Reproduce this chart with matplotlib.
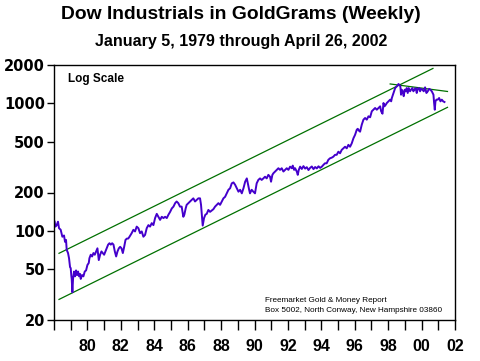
import numpy as np
import matplotlib
matplotlib.use('Agg')
import matplotlib.pyplot as plt

# weekly Dow / gold ratio (year fraction, goldgrams)
yrs_a = [1979.04, 1979.08, 1979.16, 1979.24, 1979.30, 1979.40, 1979.50, 1979.60, 1979.66, 1979.72,
         1979.76, 1979.84, 1979.90, 1979.96, 1980.00, 1980.04, 1980.06, 1980.10, 1980.14, 1980.20,
         1980.26, 1980.32, 1980.38, 1980.44, 1980.50, 1980.56, 1980.60, 1980.68, 1980.76, 1980.84,
         1980.92, 1981.00, 1981.08, 1981.12, 1981.20, 1981.28, 1981.36, 1981.44, 1981.52, 1981.60,
         1981.68, 1981.76, 1981.84, 1981.92, 1982.00, 1982.08, 1982.16, 1982.24, 1982.32, 1982.40,
         1982.48, 1982.56, 1982.64, 1982.72, 1982.80, 1982.88, 1982.96, 1983.04, 1983.12, 1983.20,
         1983.28, 1983.36, 1983.44, 1983.52]
val_a = [118, 108, 111, 118, 105, 102, 90, 92, 82, 85,
         71, 67, 61, 52, 51, 44, 42, 33, 42, 48,
         44, 49, 45, 48, 44, 46, 42, 45, 44, 48,
         49, 54, 56, 61, 65, 63, 67, 65, 69, 73,
         59, 65, 69, 67, 65, 69, 73, 78, 80, 78,
         80, 78, 69, 63, 69, 73, 75, 73, 67, 75,
         85, 87, 87, 90]

yrs_b = [1983.65, 1983.75, 1983.85, 1983.95, 1984.05, 1984.15, 1984.25, 1984.35, 1984.45, 1984.55,
         1984.65, 1984.75, 1984.85, 1984.95, 1985.05, 1985.15, 1985.25, 1985.35, 1985.45, 1985.55,
         1985.65, 1985.75, 1985.85, 1985.95, 1986.05, 1986.15, 1986.25, 1986.34, 1986.44, 1986.54,
         1986.64, 1986.74, 1986.80, 1986.88, 1986.94, 1987.04, 1987.14, 1987.24, 1987.34, 1987.44,
         1987.54, 1987.64, 1987.74, 1987.80, 1987.86, 1987.90, 1987.98, 1988.06, 1988.14, 1988.24,
         1988.34]
val_b = [96, 102, 99, 108, 105, 96, 99, 90, 93, 105,
         111, 108, 115, 111, 126, 136, 129, 122, 129, 126,
         129, 126, 134, 141, 150, 155, 165, 170, 165, 155,
         155, 129, 134, 150, 160, 165, 170, 175, 180, 170,
         175, 180, 180, 160, 129, 110, 126, 134, 136, 146,
         141]

yrs_c = [1988.54, 1988.64, 1988.74, 1988.84, 1988.94, 1989.04, 1989.14, 1989.24, 1989.34, 1989.44,
         1989.54, 1989.64, 1989.74, 1989.84, 1989.94, 1990.04, 1990.14, 1990.24, 1990.34, 1990.44,
         1990.54, 1990.60, 1990.68, 1990.73, 1990.83, 1990.93, 1991.03, 1991.13, 1991.23, 1991.33,
         1991.43, 1991.53, 1991.63, 1991.73, 1991.83, 1991.93, 1991.99, 1992.07, 1992.13, 1992.23,
         1992.33, 1992.43, 1992.53]
val_c = [148, 155, 160, 165, 160, 170, 180, 185, 197, 210,
         216, 236, 240, 230, 216, 203, 210, 197, 216, 243,
         258, 236, 210, 197, 210, 203, 197, 236, 251, 258,
         251, 258, 266, 258, 275, 266, 243, 275, 283, 292,
         301, 310, 301]

yrs_d = [1992.63, 1992.73, 1992.83, 1992.93, 1993.03, 1993.13, 1993.23, 1993.29, 1993.37, 1993.43,
         1993.53, 1993.59, 1993.65, 1993.73, 1993.83, 1993.93, 1994.03, 1994.13, 1994.23, 1994.33,
         1994.43, 1994.53, 1994.63, 1994.73, 1994.83, 1994.93, 1995.03, 1995.13, 1995.22, 1995.32,
         1995.42, 1995.52, 1995.62, 1995.72, 1995.82, 1995.92, 1996.02, 1996.12, 1996.22, 1996.32,
         1996.42, 1996.52, 1996.62, 1996.72, 1996.82, 1996.92, 1997.02, 1997.12, 1997.18, 1997.26,
         1997.32]
val_d = [310, 292, 301, 310, 301, 319, 310, 325, 301, 310,
         292, 275, 301, 319, 306, 322, 308, 316, 300, 312,
         320, 305, 317, 309, 321, 312, 319, 330, 339, 339,
         361, 371, 375, 382, 395, 395, 418, 406, 432, 444,
         457, 444, 473, 457, 486, 532, 567, 621, 632, 609,
         600]

yrs_e = [1997.42, 1997.52, 1997.62, 1997.72, 1997.82, 1997.92, 1998.02, 1998.12, 1998.22, 1998.32,
         1998.42, 1998.52, 1998.58, 1998.66, 1998.72, 1998.78, 1998.86, 1998.92, 1999.02, 1999.12,
         1999.18, 1999.22, 1999.32, 1999.42, 1999.52, 1999.62, 1999.68, 1999.73, 1999.77, 1999.81,
         1999.87, 1999.93, 1999.99, 2000.05, 2000.11, 2000.17, 2000.23, 2000.31, 2000.37, 2000.45,
         2000.51, 2000.57, 2000.65, 2000.71, 2000.77, 2000.85, 2000.91, 2000.97, 2001.05, 2001.13,
         2001.21, 2001.29, 2001.37, 2001.45, 2001.53, 2001.61, 2001.71, 2001.75, 2001.79, 2001.83,
         2001.89, 2001.97, 2002.05, 2002.13, 2002.21, 2002.29, 2002.37]
val_e = [681, 745, 768, 745, 792, 778, 867, 892, 920, 892,
         920, 948, 867, 830, 1007, 948, 977, 1007, 1038, 1070,
         1038, 1102, 1206, 1320, 1361, 1420, 1389, 1361, 1170, 1280,
         1244, 1138, 1280, 1244, 1320, 1206, 1320, 1244, 1280, 1320,
         1244, 1280, 1320, 1206, 1300, 1320, 1244, 1300, 1280, 1244,
         1336, 1206, 1244, 1300, 1280, 1244, 1170, 1007, 892, 1038,
         1070, 1070, 1102, 1038, 1070, 1038, 1025]

# trend channel (green) endpoints
upper_x = [1979.30, 2001.68]
upper_y = [66.7, 1880]
lower_x = [1979.30, 2002.55]
lower_y = [29, 931]
top_x = [1999.12, 2002.55]
top_y = [1420, 1240]

ytick_vals = [20, 50, 100, 200, 500, 1000, 2000]
xtick_pos = list(range(1981, 2004, 2))
xtick_lbl = ['80', '82', '84', '86', '88', '90', '92', '94', '96', '98', '00', '02']

yrs = yrs_a + yrs_b + yrs_c + yrs_d + yrs_e
vals = val_a + val_b + val_c + val_d + val_e

fig = plt.figure(figsize=(4.8, 3.61), dpi=100)
ax = fig.add_axes([54/480, 41/361, 401/480, 255/361])

ax.plot(upper_x, upper_y, color='#007000', lw=0.9)
ax.plot(lower_x, lower_y, color='#007000', lw=0.9)
ax.plot(top_x, top_y, color='#007000', lw=0.9)
ax.plot(yrs, vals, color='#4400CC', lw=1.4)

ax.set_yscale('log')
ax.set_ylim(20, 2000)
ax.set_xlim(1979, 2003)
ax.set_yticks(ytick_vals)
ax.set_yticklabels([str(v) for v in ytick_vals], fontsize=10.5, fontweight='bold',
                   family='DejaVu Sans')
ax.yaxis.set_minor_locator(matplotlib.ticker.NullLocator())
ax.set_xticks(range(1979, 2004), minor=True)
ax.set_xticks(xtick_pos)
ax.set_xticklabels(xtick_lbl, fontsize=11.5, fontweight='bold', family='Liberation Sans')
ax.tick_params(axis='y', length=5, width=1, pad=1.5)
ax.tick_params(axis='x', which='both', length=7, width=1, pad=7)
for s in ax.spines.values():
    s.set_linewidth(1)

ax.text(0.034, 0.968, 'Log Scale', transform=ax.transAxes, ha='left', va='top',
        fontsize=8.5, fontweight='bold', family='Liberation Sans')
ax.text(265/480, 1 - 300/361, 'Freemarket Gold & Money Report', transform=fig.transFigure,
        ha='left', va='center', fontsize=5.9, family='Liberation Sans')
ax.text(265/480, 1 - 311/361, 'Box 5002, North Conway, New Hampshire 03860',
        transform=fig.transFigure, ha='left', va='center', fontsize=5.9,
        family='Liberation Sans')

fig.text(241/480, 1 - 19.3/361, 'Dow Industrials in GoldGrams (Weekly)', ha='center',
         va='baseline', fontsize=13.9, fontweight='bold', family='Liberation Sans')
fig.text(241/480, 1 - 45.7/361, 'January 5, 1979 through April 26, 2002', ha='center',
         va='baseline', fontsize=11.5, fontweight='bold', family='Liberation Sans')

fig.savefig('out.png', dpi=100)
